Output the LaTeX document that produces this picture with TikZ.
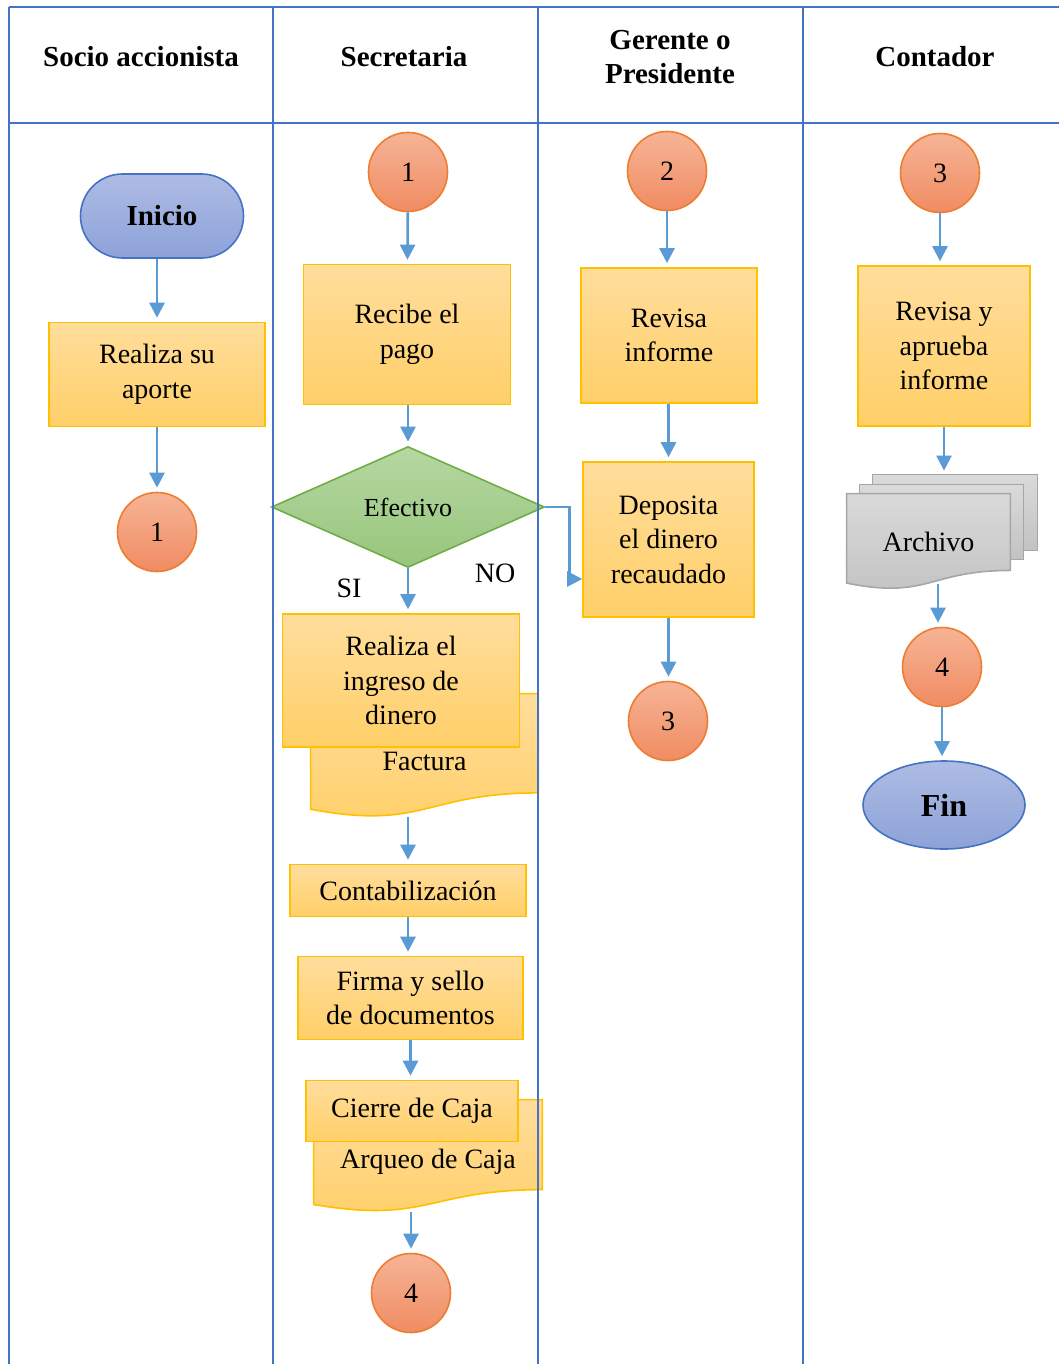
\documentclass[tikz,border=0pt]{standalone}
\usepackage{fontspec}
\setmainfont{Liberation Serif}
\usepackage{xcolor}
\usepackage{tikz}
\usetikzlibrary{shapes.geometric, arrows.meta, calc, backgrounds}
\definecolor{laneblue}{HTML}{4472C4}
\definecolor{arrowblue}{HTML}{5B9BD5}
\definecolor{boxline}{HTML}{FFC000}
\definecolor{boxtop}{HTML}{FFDD9C}
\definecolor{boxbot}{HTML}{FFCF68}
\definecolor{circline}{HTML}{ED7D31}
\definecolor{circtop}{HTML}{F6B496}
\definecolor{circbot}{HTML}{F08C62}
\definecolor{diamline}{HTML}{70AD47}
\definecolor{diamtop}{HTML}{B6D7A2}
\definecolor{diambot}{HTML}{97C67C}
\definecolor{termtop}{HTML}{AEBCE4}
\definecolor{termbot}{HTML}{8DA2D8}
\definecolor{grayline}{HTML}{A6A6A6}
\definecolor{graytop}{HTML}{DADADA}
\definecolor{graybot}{HTML}{C2C2C2}
\tikzstyle{arrow} = [line width=1.3pt, draw=arrowblue, -{Triangle[length=7.5pt,width=7.5pt]}, arrowblue, shorten >=2pt]
\tikzstyle{laneline} = [line width=1pt, draw=laneblue]
\tikzstyle{head} = [align=center, font=\bfseries\fontsize{14.5}{17}\selectfont]
\tikzstyle{proc} = [rectangle, draw=boxline, line width=0.8pt, top color=boxtop, bottom color=boxbot, align=center, inner sep=2pt, font=\fontsize{14}{17.3}\selectfont]
\tikzstyle{conn} = [circle, draw=circline, line width=0.8pt, top color=circtop, bottom color=circbot, minimum size=39.5pt, inner sep=0pt, font=\fontsize{14}{17}\selectfont]
\tikzstyle{term} = [draw=laneblue, line width=0.8pt, top color=termtop, bottom color=termbot, inner sep=0pt]
\tikzstyle{decision} = [diamond, draw=diamline, line width=0.8pt, top color=diamtop, bottom color=diambot, minimum width=136.5pt, minimum height=60.5pt, inner sep=0pt, font=\fontsize{13}{15}\selectfont]
\tikzstyle{doc} = [rectangle, inner sep=0pt, align=center, font=\fontsize{14}{17}\selectfont]
\tikzstyle{docfill} = [draw=boxline, line width=0.8pt, top color=boxtop, bottom color=boxbot]
\tikzstyle{pagefill} = [draw=grayline, line width=0.8pt, top color=graytop, bottom color=graybot]
\tikzstyle{lbl} = [font=\fontsize{14}{17}\selectfont]
% document shape behind a node
\newcommand{\docshape}[2]{%
  \begin{pgfonlayer}{background}
  \path[#2] (#1.north west) -- (#1.north east) -- ($(#1.north east)!0.802!(#1.south east)$)
    .. controls ($(#1.north)!0.802!(#1.south)$) and ($(#1.north)!1.107!(#1.south)$) .. ($(#1.north west)!0.934!(#1.south west)$) -- cycle;
  \end{pgfonlayer}}

\begin{document}
\begin{tikzpicture}[x=0.5pt, y=-0.5pt]
    \useasboundingbox (0,0) rectangle (1059,1364);

    % Headers
    \node[head] (hsocio) at (141,57) {Socio accionista};
    \node[head] (hsecre) at (404,57) {Secretaria};
    \node[head] (hgeren) at (670,57) {Gerente o\\Presidente};
    \node[head] (hconta) at (935,57) {Contador};

    % Socio accionista
    \node[term, minimum width=81.5pt, minimum height=42pt, rounded corners=21pt, font=\bfseries\fontsize{14.5}{17}\selectfont] (inicio) at (162,216) {Inicio};
    \node[proc, minimum width=108pt, minimum height=52pt] (aporte) at (157,374.5) {Realiza su\\aporte};
    \node[conn] (socio1) at (157,532) {1};

    % Secretaria
    \node[conn] (secre1) at (408,172) {1};
    \node[proc, minimum width=103.5pt, minimum height=70pt] (recibe) at (407,334.5) {Recibe el\\pago};
    \node[decision] (efectivo) at (408,507) {Efectivo};
    \node[lbl] (si) at (349,588) {SI};
    \node[lbl] (no) at (495,573) {NO};
    \node[doc, minimum width=113.5pt, minimum height=61.5pt, text height=15pt] (factura) at (424.5,755.5) {Factura};
    \docshape{factura}{docfill}
    \node[proc, minimum width=118.5pt, minimum height=66.5pt] (ingreso) at (401,680.5) {Realiza el\\ingreso de\\dinero};
    \node[proc, minimum width=118pt, minimum height=26pt] (contab) at (408,890.5) {Contabilización};
    \node[proc, minimum width=112.5pt, minimum height=41.5pt] (firma) at (410.5,998) {Firma y sello\\de documentos};
    \node[doc, minimum width=114pt, minimum height=55.75pt, text height=16pt] (arqueo) at (428,1155.75) {Arqueo de Caja};
    \docshape{arqueo}{docfill}
    \node[proc, minimum width=106pt, minimum height=30.5pt] (cierre) at (412,1111) {Cierre de Caja};
    \node[conn] (secre4) at (411,1293) {4};

    % Gerente o Presidente
    \node[conn] (geren2) at (667,171) {2};
    \node[proc, minimum width=88pt, minimum height=67.5pt] (revisa) at (669,335.5) {Revisa\\informe};
    \node[proc, minimum width=85.5pt, minimum height=77.5pt] (deposita) at (668.5,539.5) {Deposita\\el dinero\\recaudado};
    \node[conn] (geren3) at (668,721) {3};

    % Contador
    \node[conn] (conta3) at (940,173) {3};
    \node[proc, minimum width=86pt, minimum height=80pt] (aprueba) at (944,346) {Revisa y\\aprueba\\informe};
    \node[doc, minimum width=81.5pt, minimum height=47.5pt] (archivo) at (928.5,541.5) {Archivo};
    \begin{pgfonlayer}{background}
    \path[pagefill] ($(archivo.north west)+(26,-19)$) rectangle ($(archivo.north east)+(27,57)$);
    \path[pagefill] ($(archivo.north west)+(13,-9)$) rectangle ($(archivo.north east)+(13,66)$);
    \end{pgfonlayer}
    \docshape{archivo}{pagefill}
    \coordinate (archtop) at ($(archivo.north)+(26,-19)$);
    \node[conn] (conta4) at (942,667) {4};
    \node[term, ellipse, minimum width=81pt, minimum height=44pt, font=\bfseries\fontsize{16}{18}\selectfont] (fin) at (944,805) {Fin};

    % Arrows
    \draw[arrow] (inicio.south -| aporte) -- (aporte);
    \draw[arrow] (aporte) -- (socio1);
    \draw[arrow] (secre1) -- (recibe);
    \draw[arrow] (recibe.south -| efectivo) -- (efectivo);
    \draw[arrow] (efectivo) -- (efectivo |- ingreso.north);
    \draw[arrow, shorten >=0pt] (efectivo.east) -- ++(24,0) |- ($(deposita.west)+(0,39.5)$);
    \draw[arrow] (factura.south -| contab) -- (contab);
    \draw[arrow] (contab) -- (contab |- firma.north);
    \draw[arrow] (firma) -- (firma |- cierre.north);
    \draw[arrow] (arqueo.south -| secre4) -- (secre4);
    \draw[arrow] (geren2) -- (geren2 |- revisa.north);
    \draw[arrow] (revisa.south -| deposita) -- (deposita);
    \draw[arrow] (deposita) -- (deposita |- geren3.north);
    \draw[arrow] (conta3) -- (conta3 |- aprueba.north);
    \draw[arrow] (aprueba) -- (aprueba |- archtop);
    \draw[arrow] ($(archivo.south -| 938,0)+(0,-5)$) -- (938,0 |- conta4.north);
    \draw[arrow] (conta4) -- (conta4 |- fin.north);

    % Lanes
    \draw[laneline] (9,7) -- (1059,7);
    \draw[laneline] (9,123) -- (1059,123);
    \foreach \x in {9,273,538,803}
        \draw[laneline] (\x,7) -- (\x,1364);
\end{tikzpicture}
\end{document}
